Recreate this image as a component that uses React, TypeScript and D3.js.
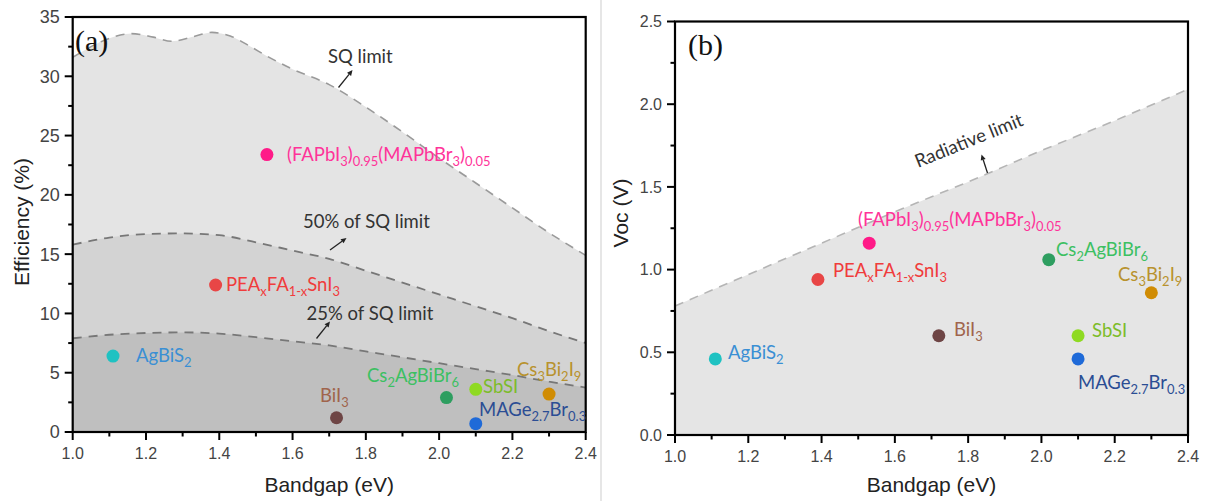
import React from "react";
import * as d3 from "d3";

// ---------- data ----------
const materials = ["AgBiS2", "PEAxFA1-xSnI3", "(FAPbI3)0.95(MAPbBr3)0.05", "BiI3", "Cs2AgBiBr6", "SbSI", "MAGe2.7Br0.3", "Cs3Bi2I9"];
const bandgapA = [1.11, 1.39, 1.53, 1.72, 2.02, 2.10, 2.10, 2.30];
const efficiency = [6.4, 12.4, 23.4, 1.2, 2.9, 3.6, 0.7, 3.2];
const bandgapB = [1.11, 1.39, 1.53, 1.72, 2.02, 2.10, 2.10, 2.30];
const voc = [0.46, 0.94, 1.16, 0.60, 1.06, 0.60, 0.46, 0.86];
const pointColors = ["#1fc2c2", "#e84646", "#ff1a88", "#6e4545", "#2e9e60", "#8fda22", "#1f6ad8", "#d08c04"];
const labelColors = ["#3a8fd4", "#f03c3c", "#ff3399", "#a0644c", "#3cc062", "#7cbc2a", "#2b4d94", "#b8922e"];
const labelParts: [string, boolean][][] = [
  [["AgBiS", false], ["2", true]],
  [["PEA", false], ["x", true], ["FA", false], ["1-x", true], ["SnI", false], ["3", true]],
  [["(FAPbI", false], ["3", true], [")", false], ["0.95", true], ["(MAPbBr", false], ["3", true], [")", false], ["0.05", true]],
  [["BiI", false], ["3", true]],
  [["Cs", false], ["2", true], ["AgBiBr", false], ["6", true]],
  [["SbSI", false]],
  [["MAGe", false], ["2.7", true], ["Br", false], ["0.3", true]],
  [["Cs", false], ["3", true], ["Bi", false], ["2", true], ["I", false], ["9", true]],
];

const sqX = [1.0, 1.05, 1.1, 1.16, 1.22, 1.27, 1.33, 1.38, 1.43, 1.48, 1.53, 1.6, 1.7, 1.8, 1.9, 2.0, 2.1, 2.2, 2.3, 2.4];
const sqY = [31.6, 32.5, 33.2, 33.6, 33.3, 32.95, 33.35, 33.7, 33.4, 32.6, 31.7, 30.6, 29.3, 27.4, 25.3, 23.1, 21.0, 18.9, 16.8, 14.9];
const halfX = [1.0, 1.1, 1.2, 1.3, 1.4, 1.5, 1.6, 1.7, 1.8, 1.9, 2.0, 2.1, 2.2, 2.3, 2.4];
const halfY = [15.8, 16.4, 16.7, 16.75, 16.6, 16.0, 15.3, 14.6, 13.6, 12.6, 11.6, 10.6, 9.6, 8.5, 7.5];
const quarterX = [1.0, 1.1, 1.2, 1.3, 1.4, 1.5, 1.6, 1.7, 1.8, 1.9, 2.0, 2.1, 2.2, 2.3, 2.4];
const quarterY = [7.9, 8.2, 8.35, 8.4, 8.3, 8.0, 7.65, 7.3, 6.8, 6.3, 5.8, 5.3, 4.8, 4.25, 3.75];
const radX = [1.0, 1.2, 1.4, 1.6, 1.8, 2.0, 2.2, 2.4];
const radY = [0.78, 0.97, 1.16, 1.35, 1.53, 1.72, 1.90, 2.09];

const xTicks = [1.0, 1.2, 1.4, 1.6, 1.8, 2.0, 2.2, 2.4];
const effTicks = [0, 5, 10, 15, 20, 25, 30, 35];
const vocTicks = [0, 0.5, 1.0, 1.5, 2.0, 2.5];

// ---------- layout ----------
const LA = { left: 72.7, right: 585.7, top: 17, bottom: 432 };
const LB = { left: 675, right: 1188, top: 21.5, bottom: 435 };
const labelPosA: [number, number][] = [[136, 362], [226, 291], [287, 161], [320, 402], [367, 382], [483, 393], [479, 416], [517, 376]];
const labelPosB: [number, number][] = [[728, 359], [833, 277], [858, 226], [954, 336], [1056, 256], [1092, 337], [1078, 389], [1118, 281]];

const LABEL_FONT = "Lato, 'Open Sans', sans-serif";
const AXIS_FONT = "'Liberation Sans', Arial, sans-serif";
const LABEL_SIZE = 18.5;

function RichLabel({ x, y, parts, color, size }: { x: number; y: number; parts: [string, boolean][]; color: string; size: number }) {
  let inSub = false;
  const shift = size * 0.28;
  return (
    <text x={x} y={y} fill={color} fontFamily={LABEL_FONT} fontSize={size}>
      {parts.map(([t, sub], i) => {
        let dy = 0;
        if (sub && !inSub) dy = shift;
        if (!sub && inSub) dy = -shift;
        inSub = sub;
        return (
          <tspan key={i} dy={dy} fontSize={sub ? size * 0.7 : size}>
            {t}
          </tspan>
        );
      })}
    </text>
  );
}

function Arrow({ x1, y1, x2, y2 }: { x1: number; y1: number; x2: number; y2: number }) {
  const ang = Math.atan2(y2 - y1, x2 - x1);
  const L = 5.5, W = 2.6;
  const bx = x2 - L * Math.cos(ang), by = y2 - L * Math.sin(ang);
  const px = -Math.sin(ang) * W, py = Math.cos(ang) * W;
  return (
    <g>
      <line x1={x1} y1={y1} x2={bx} y2={by} stroke="#222" strokeWidth={1.3} />
      <path d={`M${x2},${y2}L${bx + px},${by + py}L${bx - px},${by - py}Z`} fill="#222" />
    </g>
  );
}

function Axes({ box, x, y, yTicks, yMinor, yFmt, yFont }: any) {
  const xMinor = d3.range(1.1, 2.4, 0.2);
  return (
    <g>
      {xTicks.map((t) => (
        <g key={"x" + t}>
          <line x1={x(t)} x2={x(t)} y1={box.bottom} y2={box.bottom + 8} stroke="#000" strokeWidth={2} />
          <text x={x(t)} y={box.bottom + 27} textAnchor="middle" fontFamily={AXIS_FONT} fontSize={16} fill="#444">
            {t.toFixed(1)}
          </text>
        </g>
      ))}
      {xMinor.map((t: number) => (
        <line key={"xm" + t} x1={x(t)} x2={x(t)} y1={box.bottom} y2={box.bottom + 4.5} stroke="#000" strokeWidth={2} />
      ))}
      {yTicks.map((t: number) => (
        <g key={"y" + t}>
          <line x1={box.left - 8} x2={box.left} y1={y(t)} y2={y(t)} stroke="#000" strokeWidth={2} />
          <text x={box.left - 13} y={y(t)} dy="0.36em" textAnchor="end" fontFamily={AXIS_FONT} fontSize={yFont} fill="#444">
            {yFmt(t)}
          </text>
        </g>
      ))}
      {yMinor.map((t: number) => (
        <line key={"ym" + t} x1={box.left - 4.5} x2={box.left} y1={y(t)} y2={y(t)} stroke="#000" strokeWidth={2} />
      ))}
      <rect x={box.left} y={box.top} width={box.right - box.left} height={box.bottom - box.top} fill="none" stroke="#000" strokeWidth={2.2} />
    </g>
  );
}

export default function App() {
  const xA = d3.scaleLinear().domain([1, 2.4]).range([LA.left, LA.right]);
  const yA = d3.scaleLinear().domain([0, 35]).range([LA.bottom, LA.top]);
  const xB = d3.scaleLinear().domain([1, 2.4]).range([LB.left, LB.right]);
  const yB = d3.scaleLinear().domain([0, 2.5]).range([LB.bottom, LB.top]);

  const mk = (xs: number[], ys: number[]) => xs.map((v, i) => [v, ys[i]] as [number, number]);
  const areaA = d3.area<[number, number]>().x((d) => xA(d[0])).y0(yA(0)).y1((d) => yA(d[1])).curve(d3.curveMonotoneX);
  const lineA = d3.line<[number, number]>().x((d) => xA(d[0])).y((d) => yA(d[1])).curve(d3.curveMonotoneX);
  const areaB = d3.area<[number, number]>().x((d) => xB(d[0])).y0(yB(0)).y1((d) => yB(d[1]));
  const lineB = d3.line<[number, number]>().x((d) => xB(d[0])).y((d) => yB(d[1]));

  const sq = mk(sqX, sqY), half = mk(halfX, halfY), quarter = mk(quarterX, quarterY), rad = mk(radX, radY);
  const effMinor = d3.range(2.5, 35, 5);
  const vocMinor = d3.range(0.25, 2.5, 0.5);

  return (
    <svg width={1210} height={501} style={{ position: "absolute", left: 0, top: 0, background: "#fff" }}>
      <line x1={601} x2={601} y1={0} y2={501} stroke="#e6e6e6" strokeWidth={2} />
      {/* ---- panel (a) ---- */}
      <path d={areaA(sq)!} fill="#e4e4e4" />
      <path d={areaA(half)!} fill="#d3d3d3" />
      <path d={areaA(quarter)!} fill="#bfbfbf" />
      <path d={lineA(sq)!} fill="none" stroke="#9a9a9a" strokeWidth={1.6} strokeDasharray="9,7" />
      <path d={lineA(half)!} fill="none" stroke="#777" strokeWidth={1.8} strokeDasharray="9,7" />
      <path d={lineA(quarter)!} fill="none" stroke="#777" strokeWidth={1.8} strokeDasharray="9,7" />
      <Axes box={LA} x={xA} y={yA} yTicks={effTicks} yMinor={effMinor} yFmt={(t: number) => String(t)} yFont={18} />
      <text x={75} y={51} fontFamily="'Liberation Serif', 'Times New Roman', serif" fontSize={30} fill="#111">(a)</text>
      <text x={328} y={63} fontFamily={LABEL_FONT} fontSize={LABEL_SIZE} fill="#333">SQ limit</text>
      <Arrow x1={338.5} y1={87.5} x2={352.5} y2={70} />
      <text x={303} y={228} fontFamily={LABEL_FONT} fontSize={LABEL_SIZE} fill="#333">50% of SQ limit</text>
      <Arrow x1={330} y1={250} x2={346.5} y2={238} />
      <text x={306.5} y={320} fontFamily={LABEL_FONT} fontSize={LABEL_SIZE} fill="#333">25% of SQ limit</text>
      <Arrow x1={316.5} y1={338.5} x2={330} y2={321.5} />
      {materials.map((m, i) => (
        <circle key={"pa" + m} cx={xA(bandgapA[i])} cy={yA(efficiency[i])} r={6.5} fill={pointColors[i]} />
      ))}
      {materials.map((m, i) => (
        <RichLabel key={"la" + m} x={labelPosA[i][0]} y={labelPosA[i][1]} parts={labelParts[i]} color={labelColors[i]} size={LABEL_SIZE} />
      ))}
      <text transform="translate(29,222) rotate(-90)" textAnchor="middle" fontFamily={AXIS_FONT} fontSize={21} fill="#222">Efficiency (%)</text>
      <text x={(LA.left + LA.right) / 2} y={492} textAnchor="middle" fontFamily={AXIS_FONT} fontSize={21} fill="#222">Bandgap (eV)</text>

      {/* ---- panel (b) ---- */}
      <path d={areaB(rad)!} fill="#e5e5e5" />
      <path d={lineB(rad)!} fill="none" stroke="#b5b5b5" strokeWidth={1.6} strokeDasharray="9,7" />
      <Axes box={LB} x={xB} y={yB} yTicks={vocTicks} yMinor={vocMinor} yFmt={(t: number) => t.toFixed(1)} yFont={16} />
      <text x={688} y={55} fontFamily="'Liberation Serif', 'Times New Roman', serif" fontSize={30} fill="#111">(b)</text>
      <text transform="translate(918,168) rotate(-22)" fontFamily={LABEL_FONT} fontSize={18.5} fill="#333">Radiative limit</text>
      <Arrow x1={987.5} y1={173} x2={981.5} y2={154.5} />
      {materials.map((m, i) => (
        <circle key={"pb" + m} cx={xB(bandgapB[i])} cy={yB(voc[i])} r={6.5} fill={pointColors[i]} />
      ))}
      {materials.map((m, i) => (
        <RichLabel key={"lb" + m} x={labelPosB[i][0]} y={labelPosB[i][1]} parts={labelParts[i]} color={labelColors[i]} size={LABEL_SIZE} />
      ))}
      <text transform="translate(628,213) rotate(-90)" textAnchor="middle" fontFamily={AXIS_FONT} fontSize={21} fill="#222">Voc (V)</text>
      <text x={(LB.left + LB.right) / 2} y={492} textAnchor="middle" fontFamily={AXIS_FONT} fontSize={21} fill="#222">Bandgap (eV)</text>
    </svg>
  );
}
